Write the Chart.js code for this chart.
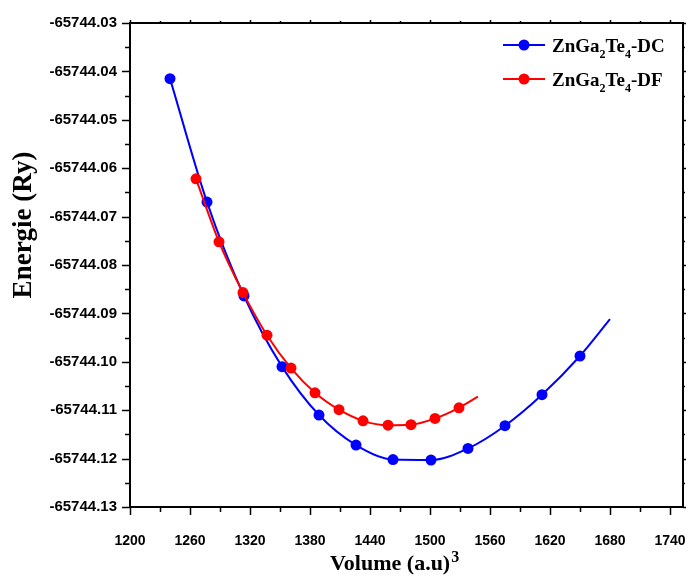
<!DOCTYPE html>
<html>
<head>
<meta charset="utf-8">
<script src="https://cdn.jsdelivr.net/npm/chart.js@4.4.1/dist/chart.umd.min.js"></script>
<style>
  html, body { margin: 0; background: #fff; }
  #wrap { width: 691px; height: 578px; position: relative; }
</style>
</head>
<body>
<div id="wrap"><canvas id="chart"></canvas></div>
<script>
// values
const dcVolume = [1240, 1277, 1314, 1352, 1389, 1426, 1463, 1501, 1538, 1575, 1612, 1650];
const dcEnergy = [-65744.0415, -65744.0670, -65744.0864, -65744.1010, -65744.1110, -65744.1172,
                  -65744.1202, -65744.1203, -65744.1179, -65744.1132, -65744.1068, -65744.0988];
const dcCurveEnd = [1680, -65744.0912];

const dfVolume = [1266, 1289, 1313, 1337, 1361, 1385, 1409, 1433, 1458, 1481, 1505, 1529];
const dfEnergy = [-65744.0622, -65744.0752, -65744.0857, -65744.0945, -65744.1013, -65744.1064,
                  -65744.1099, -65744.1122, -65744.1131, -65744.1130, -65744.1117, -65744.1095];
const dfCurveEnd = [1548, -65744.1072];

const xTicks = [1200, 1260, 1320, 1380, 1440, 1500, 1560, 1620, 1680, 1740];
const yTicks = [-65744.13, -65744.12, -65744.11, -65744.10, -65744.09, -65744.08,
                -65744.07, -65744.06, -65744.05, -65744.04, -65744.03];

const BLUE = '#0000ff', RED = '#ff0000';
const serif = '"Liberation Serif", "Times New Roman", serif';
const sans = '"Liberation Sans", Arial, sans-serif';

const pts = (xs, ys) => xs.map((x, i) => ({ x, y: ys[i] }));
const curve = (xs, ys, end) => pts(xs, ys).concat([{ x: end[0], y: end[1] }]);

// draws "ZnGa2Te4-.." with lowered digits
function formula(ctx, x, y, parts) {
  for (const [t, sub] of parts) {
    ctx.font = sub ? `bold 12px ${serif}` : `bold 19px ${serif}`;
    ctx.fillText(t, x, sub ? y + 6 : y);
    x += ctx.measureText(t).width;
  }
}

const decor = {
  id: 'decor',
  afterDraw(chart) {
    const { ctx, chartArea: a, scales: { x, y } } = chart;
    ctx.save();
    ctx.strokeStyle = '#000';
    ctx.lineWidth = 2;
    ctx.strokeRect(a.left, a.top, a.right - a.left, a.bottom - a.top);

    ctx.lineWidth = 1.5;
    ctx.beginPath();
    xTicks.forEach(v => {
      const p = Math.round(x.getPixelForValue(v)) + 0.5;
      ctx.moveTo(p, a.bottom); ctx.lineTo(p, a.bottom + 8);
      ctx.moveTo(p, a.top); ctx.lineTo(p, a.top - 3);
      const m = v + 30;
      if (m < x.max) {
        const q = Math.round(x.getPixelForValue(m)) + 0.5;
        ctx.moveTo(q, a.bottom); ctx.lineTo(q, a.bottom + 5);
        ctx.moveTo(q, a.top); ctx.lineTo(q, a.top - 2);
      }
    });
    yTicks.forEach((v, i) => {
      const p = Math.round(y.getPixelForValue(v)) + 0.5;
      ctx.moveTo(a.left, p); ctx.lineTo(a.left - 8, p);
      ctx.moveTo(a.right, p); ctx.lineTo(a.right + 3, p);
      if (i < yTicks.length - 1) {
        const q = Math.round(y.getPixelForValue(v + 0.005)) + 0.5;
        ctx.moveTo(a.left, q); ctx.lineTo(a.left - 5, q);
        ctx.moveTo(a.right, q); ctx.lineTo(a.right + 2, q);
      }
    });
    ctx.stroke();

    // axis titles
    ctx.fillStyle = '#000';
    ctx.textBaseline = 'alphabetic';
    ctx.save();
    ctx.translate(31, 225);
    ctx.rotate(-Math.PI / 2);
    ctx.textAlign = 'center';
    ctx.font = `bold 27px ${serif}`;
    ctx.fillText('Energie (Ry)', 0, 0);
    ctx.restore();

    ctx.textAlign = 'left';
    ctx.font = `bold 22px ${serif}`;
    const xt = 'Volume (a.u)';
    ctx.fillText(xt, 330, 570);
    const w = ctx.measureText(xt).width;
    ctx.font = `bold 16px ${serif}`;
    ctx.fillText('3', 330 + w + 1, 562);

    // legend
    const rows = [[BLUE, '-DC', 45], [RED, '-DF', 79]];
    for (const [c, tail, ly] of rows) {
      ctx.strokeStyle = c;
      ctx.lineWidth = 2;
      ctx.beginPath(); ctx.moveTo(503, ly); ctx.lineTo(545, ly); ctx.stroke();
      ctx.fillStyle = c;
      ctx.beginPath(); ctx.arc(524, ly, 5.5, 0, Math.PI * 2); ctx.fill();
      ctx.fillStyle = '#000';
      formula(ctx, 552, ly + 7, [['ZnGa', 0], ['2', 1], ['Te', 0], ['4', 1], [tail, 0]]);
    }
    ctx.restore();
  }
};

new Chart(document.getElementById('chart'), {
  type: 'scatter',
  data: {
    datasets: [
      { label: 'ZnGa2Te4-DF', data: pts(dfVolume, dfEnergy), showLine: false, pointRadius: 5.5,
        pointBackgroundColor: RED, pointBorderWidth: 0, order: 0 },
      { label: 'fit DF', data: curve(dfVolume, dfEnergy, dfCurveEnd), showLine: true, pointRadius: 0,
        borderColor: RED, borderWidth: 2, cubicInterpolationMode: 'monotone', order: 1 },
      { label: 'ZnGa2Te4-DC', data: pts(dcVolume, dcEnergy), showLine: false, pointRadius: 5.5,
        pointBackgroundColor: BLUE, pointBorderWidth: 0, order: 2 },
      { label: 'fit DC', data: curve(dcVolume, dcEnergy, dcCurveEnd), showLine: true, pointRadius: 0,
        borderColor: BLUE, borderWidth: 2, cubicInterpolationMode: 'monotone', order: 3 }
    ]
  },
  options: {
    responsive: true,
    maintainAspectRatio: false,
    animation: false,
    layout: { padding: { top: 23, right: 8, left: 0, bottom: 0 } },
    plugins: { legend: { display: false }, tooltip: { enabled: false } },
    scales: {
      x: {
        type: 'linear', min: 1200, max: 1753,
        afterBuildTicks: s => { s.ticks = xTicks.map(v => ({ value: v })); },
        afterFit: s => { s.height = 71; s.paddingLeft = 0; s.paddingRight = 0; },
        grid: { display: false },
        border: { display: false },
        ticks: { color: '#000', padding: 18, maxRotation: 0, autoSkip: false,
                 callback: v => String(v),
                 font: { family: sans, size: 14, weight: 'bold' } }
      },
      y: {
        type: 'linear', min: -65744.13, max: -65744.03,
        afterBuildTicks: s => { s.ticks = yTicks.map(v => ({ value: v })); },
        afterFit: s => { s.width = 130; s.paddingTop = 0; s.paddingBottom = 0; },
        grid: { display: false },
        border: { display: false },
        ticks: { color: '#000', padding: 5, autoSkip: false,
                 callback: v => v.toFixed(2),
                 font: { family: sans, size: 15, weight: 'bold' } }
      }
    }
  },
  plugins: [decor]
});
</script>
</body>
</html>
